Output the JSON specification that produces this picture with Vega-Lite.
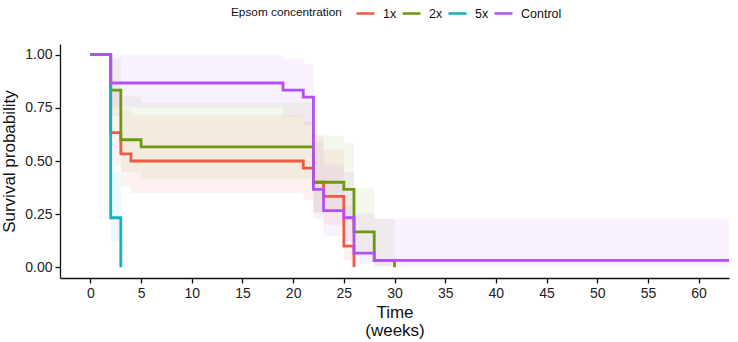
{
  "$schema": "https://vega.github.io/schema/vega-lite/v6.json",
  "autosize": {"type": "none"},
  "width": 669,
  "height": 234,
  "padding": {"left": 60, "top": 44, "right": 9, "bottom": 64},
  "background": "white",
  "config": {
    "view": {"stroke": null},
    "font": "Liberation Sans",
    "axis": {
      "grid": false,
      "domainColor": "#111",
      "domainWidth": 1.3,
      "tickColor": "#111",
      "tickWidth": 1.3,
      "tickSize": 5,
      "labelColor": "#222",
      "labelFontSize": 14,
      "labelPadding": 3,
      "titleColor": "#111",
      "titleFontSize": 17,
      "titleFontWeight": "normal"
    }
  },
  "datasets": {
    "curves": [
      {"group": "1x", "time": 0, "surv": 1},
      {"group": "1x", "time": 2, "surv": 0.6333},
      {"group": "1x", "time": 3, "surv": 0.5333},
      {"group": "1x", "time": 4, "surv": 0.5},
      {"group": "1x", "time": 21, "surv": 0.4667},
      {"group": "1x", "time": 22, "surv": 0.4},
      {"group": "1x", "time": 23, "surv": 0.3333},
      {"group": "1x", "time": 25, "surv": 0.1},
      {"group": "1x", "time": 26, "surv": 0},
      {"group": "2x", "time": 0, "surv": 1},
      {"group": "2x", "time": 2, "surv": 0.8333},
      {"group": "2x", "time": 3, "surv": 0.6},
      {"group": "2x", "time": 5, "surv": 0.5667},
      {"group": "2x", "time": 22, "surv": 0.4},
      {"group": "2x", "time": 25, "surv": 0.3667},
      {"group": "2x", "time": 26, "surv": 0.1667},
      {"group": "2x", "time": 28, "surv": 0.0333},
      {"group": "2x", "time": 30, "surv": 0},
      {"group": "5x", "time": 0, "surv": 1},
      {"group": "5x", "time": 2, "surv": 0.2333},
      {"group": "5x", "time": 3, "surv": 0},
      {"group": "Control", "time": 0, "surv": 1},
      {"group": "Control", "time": 2, "surv": 0.8667},
      {"group": "Control", "time": 19, "surv": 0.8333},
      {"group": "Control", "time": 21, "surv": 0.8},
      {"group": "Control", "time": 22, "surv": 0.3667},
      {"group": "Control", "time": 23, "surv": 0.2667},
      {"group": "Control", "time": 25, "surv": 0.2333},
      {"group": "Control", "time": 26, "surv": 0.0667},
      {"group": "Control", "time": 28, "surv": 0.0333},
      {"group": "Control", "time": 63, "surv": 0.0333}
    ],
    "bands": [
      {"group": "1x", "time": 0, "lower": 1, "upper": 1},
      {"group": "1x", "time": 2, "lower": 0.4823, "upper": 0.8315},
      {"group": "1x", "time": 3, "lower": 0.3816, "upper": 0.7454},
      {"group": "1x", "time": 4, "lower": 0.3496, "upper": 0.7152},
      {"group": "1x", "time": 21, "lower": 0.3183, "upper": 0.6841},
      {"group": "1x", "time": 22, "lower": 0.2581, "upper": 0.62},
      {"group": "1x", "time": 23, "lower": 0.2009, "upper": 0.5529},
      {"group": "1x", "time": 25, "lower": 0.0342, "upper": 0.2926},
      {"group": "1x", "time": 26, "lower": 0.0342, "upper": 0.2926},
      {"group": "2x", "time": 0, "lower": 1, "upper": 1},
      {"group": "2x", "time": 2, "lower": 0.7101, "upper": 0.9779},
      {"group": "2x", "time": 3, "lower": 0.448, "upper": 0.8036},
      {"group": "2x", "time": 5, "lower": 0.4144, "upper": 0.7749},
      {"group": "2x", "time": 22, "lower": 0.2581, "upper": 0.62},
      {"group": "2x", "time": 25, "lower": 0.2291, "upper": 0.5869},
      {"group": "2x", "time": 26, "lower": 0.0749, "upper": 0.371},
      {"group": "2x", "time": 28, "lower": 0.0049, "upper": 0.229},
      {"group": "2x", "time": 30, "lower": 0.0049, "upper": 0.229},
      {"group": "5x", "time": 0, "lower": 1, "upper": 1},
      {"group": "5x", "time": 2, "lower": 0.122, "upper": 0.4463},
      {"group": "5x", "time": 3, "lower": 0.122, "upper": 0.4463},
      {"group": "Control", "time": 0, "lower": 1, "upper": 1},
      {"group": "Control", "time": 2, "lower": 0.7532, "upper": 0.9973},
      {"group": "Control", "time": 19, "lower": 0.7101, "upper": 0.9779},
      {"group": "Control", "time": 21, "lower": 0.669, "upper": 0.9567},
      {"group": "Control", "time": 22, "lower": 0.2291, "upper": 0.5869},
      {"group": "Control", "time": 23, "lower": 0.1473, "upper": 0.4827},
      {"group": "Control", "time": 25, "lower": 0.122, "upper": 0.4463},
      {"group": "Control", "time": 26, "lower": 0.0175, "upper": 0.2543},
      {"group": "Control", "time": 28, "lower": 0.0049, "upper": 0.229},
      {"group": "Control", "time": 63, "lower": 0.0049, "upper": 0.229}
    ]
  },
  "layer": [
    {
      "data": {"name": "bands"},
      "mark": {"type": "area", "interpolate": "step-after", "fillOpacity": 0.08, "clip": true},
      "encoding": {
        "x": {"field": "time", "type": "quantitative"},
        "y": {"field": "lower", "type": "quantitative"},
        "y2": {"field": "upper"},
        "color": {"field": "group", "type": "nominal"}
      }
    },
    {
      "data": {"name": "curves"},
      "mark": {"type": "line", "interpolate": "step-after", "strokeWidth": 2.8, "clip": true},
      "encoding": {
        "x": {
          "field": "time", "type": "quantitative",
          "scale": {"domain": [-3, 63], "nice": false, "zero": false},
          "axis": {"values": [0,5,10,15,20,25,30,35,40,45,50,55,60], "title": ["Time", "(weeks)"], "titleLineHeight": 18, "titlePadding": 4}
        },
        "y": {
          "field": "surv", "type": "quantitative",
          "scale": {"domain": [-0.05, 1.05], "nice": false, "zero": false},
          "axis": {"values": [0, 0.25, 0.5, 0.75, 1], "format": ".2f", "title": "Survival probability", "titlePadding": 6}
        },
        "color": {
          "field": "group", "type": "nominal",
          "scale": {"domain": ["1x", "2x", "5x", "Control"], "range": ["#EE5A45", "#6C9A0A", "#10B3B9", "#B24FF5"]},
          "legend": {
            "title": "Epsom concentration",
            "orient": "none",
            "legendX": 171,
            "legendY": -41,
            "direction": "horizontal",
            "gridAlign": "none",
            "titleOrient": "left",
            "titleFontSize": 11.8,
            "titleFontWeight": "normal",
            "titleColor": "#111",
            "titlePadding": 13,
            "labelFontSize": 12.5,
            "labelColor": "#111",
            "labelOffset": 7,
            "columnPadding": 0,
            "symbolType": "stroke",
            "symbolSize": 324,
            "symbolStrokeWidth": 2.5
          }
        }
      }
    }
  ]
}
